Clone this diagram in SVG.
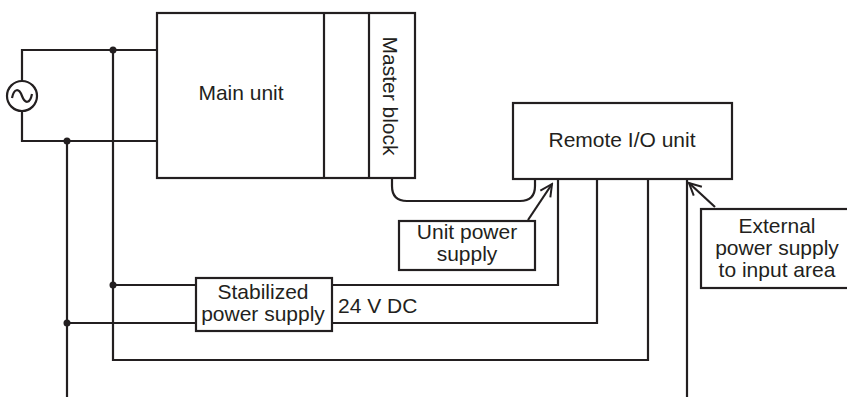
<svg xmlns="http://www.w3.org/2000/svg" width="847" height="397" viewBox="0 0 847 397">
<style>
.ln{fill:none;stroke:#231f20;stroke-width:2.2}
.bx{fill:#fff;stroke:#231f20;stroke-width:2.2}
.t{font-family:"Liberation Sans",Arial,sans-serif;font-size:21px;fill:#231f20;text-anchor:middle}
.dot{fill:#231f20}
</style>
<defs>
<marker id="ah" markerWidth="16" markerHeight="16" refX="14" refY="8" orient="auto" markerUnits="userSpaceOnUse">
<path d="M2 2 L14 8 L2 14" fill="none" stroke="#231f20" stroke-width="2"/>
</marker>
</defs>
<g id="connectors">
<path class="ln" d="M22 81 V50 H157"/>
<path class="ln" d="M22 111 V141 H157"/>
<path class="ln" d="M113 50 V360 H648 V179"/>
<path class="ln" d="M67 141 V397"/>
<path class="ln" d="M113 285 H196"/>
<path class="ln" d="M67 323 H196"/>
<path class="ln" d="M332 285 H558 V179"/>
<path class="ln" d="M332 323 H597 V179"/>
<path class="ln" d="M687 179 V397"/>
<path class="ln" d="M392 178 V186 Q392 201 407 201 H520 Q535 201 535 186 V179"/>
<path class="ln" d="M528 220 L552 184" marker-end="url(#ah)"/>
<path class="ln" d="M715 207 L689 183" marker-end="url(#ah)"/>
<circle class="dot" cx="113" cy="50" r="3.5"/>
<circle class="dot" cx="67" cy="141" r="3.5"/>
<circle class="dot" cx="113" cy="285" r="3.5"/>
<circle class="dot" cx="67" cy="323" r="3.5"/>
</g>
<g id="ac-source">
<circle class="ln" cx="22" cy="96" r="15"/>
<path class="ln" d="M12 98 C14 88 19 88 22 96 C25 104 30 104 32 94"/>
</g>
<g id="main-unit">
<rect class="bx" x="157" y="13" width="258" height="165"/>
<line class="ln" x1="324" y1="13" x2="324" y2="178"/>
<line class="ln" x1="369" y1="13" x2="369" y2="178"/>
<text class="t" x="241" y="100">Main unit</text>
</g>
<g id="master-block">
<text class="t" transform="translate(383 96) rotate(90)">Master block</text>
</g>
<g id="remote-io">
<rect class="bx" x="513" y="103" width="219" height="76"/>
<text class="t" x="622" y="147">Remote I/O unit</text>
</g>
<g id="unit-power">
<rect class="bx" x="399" y="221" width="136" height="49"/>
<text class="t" x="467" y="239">Unit power</text>
<text class="t" x="467" y="261">supply</text>
</g>
<g id="stabilized">
<rect class="bx" x="196" y="278" width="136" height="53"/>
<text class="t" x="263" y="299">Stabilized</text>
<text class="t" x="263" y="321">power supply</text>
</g>
<g id="dc-label">
<text class="t" x="338" y="313" style="text-anchor:start">24 V DC</text>
</g>
<g id="external">
<rect class="bx" x="701" y="209" width="150" height="79"/>
<text class="t" x="777" y="233" font-size="20.5">External</text>
<text class="t" x="777" y="255" font-size="20.5">power supply</text>
<text class="t" x="777" y="277" font-size="20.5">to input area</text>
</g>
</svg>
